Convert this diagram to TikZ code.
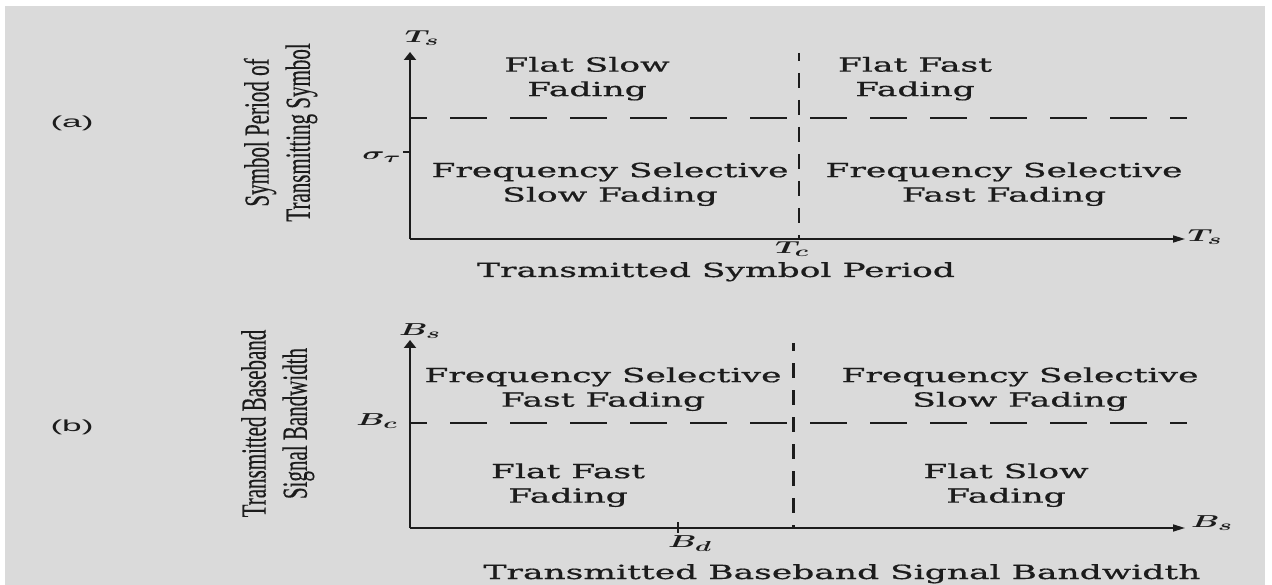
\documentclass[tikz,border=0pt]{standalone}
\usepackage{bm}
\usepackage{fontspec}
\setmainfont[FakeBold=0.6]{DejaVu Serif}
\newfontfamily\sidefont[FakeBold=0.4]{Liberation Serif}
\newfontfamily\tagfont{Liberation Sans}
\usepackage{graphicx}
\usetikzlibrary{arrows.meta}
\definecolor{paper}{HTML}{DADADA}
\definecolor{ink}{HTML}{1C1C1C}
\newlength\natw
% width factors: "Frequency Selective" spans 357 units, "(a)" spans 45
\AtBeginDocument{%
  \settowidth{\natw}{\fontsize{19.5}{24.5}\selectfont Frequency Selective}%
  \pgfmathsetmacro{\wfac}{357/\the\natw}%
  \global\let\wfac\wfac
  \settowidth{\natw}{\tagfont\fontsize{16}{18}\selectfont (a)}%
  \pgfmathsetmacro{\tfac}{43/\the\natw}%
  \global\let\tfac\tfac}
% horizontally widened text, as used throughout the chart
\newcommand{\widetxt}[1]{\scalebox{\wfac}[1]{#1}}
\newcommand{\widemath}[1]{\scalebox{1.8}[1]{#1}}
\newcommand{\twoline}[2]{\widetxt{\begin{tabular}{@{}c@{}}#1\\#2\end{tabular}}}
\newcommand{\sidelabel}[2]{\scalebox{1.68}[1]{\rotatebox{90}{\begin{tabular}{@{}c@{}}#1\\#2\end{tabular}}}}
\newcommand{\sym}[2]{\widemath{$\bm{#1}_{\bm{#2}}$}}

\begin{document}
\begin{tikzpicture}[x=1pt,y=-1pt,
  region/.style={inner sep=0pt, text=ink, font=\fontsize{19.5}{24.5}\selectfont},
  axislbl/.style={inner sep=0pt, text=ink, font=\fontsize{19}{21}\selectfont},
  side/.style={inner sep=0pt, text=ink, font=\sidefont\fontsize{21}{24.5}\selectfont},
  tag/.style={inner sep=0pt, text=ink, font=\tagfont\fontsize{16}{18}\selectfont},
  yaxis/.style={line width=2.8pt, draw=ink, -{Triangle[length=8pt,width=12pt]}},
  xaxis/.style={line width=1.6pt, draw=ink, -{Triangle[length=12pt,width=7pt]}},
  hsplit/.style={line width=1.3pt, draw=ink, dash pattern=on 37pt off 23pt, dash phase=20pt},
  vsplit/.style={line width=2.6pt, draw=ink, dash pattern=on 15pt off 12pt, dash phase=7pt},
  tick/.style={line width=1.3pt, draw=ink},
  vtick/.style={line width=2.4pt, draw=ink}]

% page and grey panel
\fill[white] (0,0) rectangle (1272,585);
\fill[paper] (5,6) rectangle (1265,585);
\useasboundingbox (0,0) rectangle (1272,585);

% ---------- (a) symbol period ----------
\coordinate (Oa) at (410,239);
\coordinate (Ya) at (410,52);
\coordinate (Xa) at (1185,239);
\coordinate (sigL) at (403,152);
\coordinate (sigR) at (410,152);
\coordinate (ha1) at (410,118);
\coordinate (ha2) at (1187,118);
\coordinate (va1) at (799,53);
\coordinate (va2) at (799,239);

\draw[hsplit] (ha1) -- (ha2);
\draw[vsplit] (va1) -- (va2);
\draw[xaxis] (Oa) -- (Xa);
\draw[yaxis] (Oa) -- (Ya);
\draw[tick] (sigL) -- (sigR);

\node[tag] (tagA) at (72,123) {\scalebox{\tfac}[1]{(a)}};
\node[side] (sideA) at (281,132.5) {\sidelabel{Symbol Period of}{Transmitting Symbol}};
\node[axislbl] (tsTop) at (422,38) {\sym{T}{s}};
\node[axislbl] (sigma) at (382,157) {\sym{\sigma}{\tau}};
\node[axislbl] (tsRight) at (1205,237) {\sym{T}{s}};
\node[axislbl] (tc) at (792,249) {\sym{T}{c}};

\node[region] (fsfA) at (587,79) {\twoline{Flat Slow}{Fading}};
\node[region] (fffA) at (915,79) {\twoline{Flat Fast}{Fading}};
\node[region] (fssA) at (610,184.5) {\twoline{Frequency Selective}{Slow Fading}};
\node[region] (fsffA) at (1004,184.5) {\twoline{Frequency Selective}{Fast Fading}};
\node[region, anchor=base] (titleA) at (716,277) {\widetxt{Transmitted Symbol Period}};

% ---------- (b) baseband bandwidth ----------
\coordinate (Ob) at (410,528);
\coordinate (Yb) at (410,340);
\coordinate (Xb) at (1185,528);
\coordinate (bdT) at (678,522);
\coordinate (bdB) at (678,533);
\coordinate (hb1) at (410,423);
\coordinate (hb2) at (1187,423);
\coordinate (vb1) at (793.6,343);
\coordinate (vb2) at (793.6,528);

\draw[hsplit] (hb1) -- (hb2);
\draw[vsplit] (vb1) -- (vb2);
\draw[xaxis] (Ob) -- (Xb);
\draw[yaxis] (Ob) -- (Yb);
\draw[vtick] (bdT) -- (bdB);

\node[tag] (tagB) at (72,427) {\scalebox{\tfac}[1]{(b)}};
\node[side] (sideB) at (278,423.5) {\sidelabel{Transmitted Baseband}{Signal Bandwidth}};
\node[axislbl] (bsTop) at (420,331) {\sym{B}{s}};
\node[axislbl] (bc) at (377,421) {\sym{B}{c}};
\node[axislbl] (bsRight) at (1212,523) {\sym{B}{s}};
\node[axislbl] (bd) at (690,544) {\sym{B}{d}};

\node[region] (fsffB) at (603,389.5) {\twoline{Frequency Selective}{Fast Fading}};
\node[region] (fssB) at (1020,389.5) {\twoline{Frequency Selective}{Slow Fading}};
\node[region] (fffB) at (568,485.5) {\twoline{Flat Fast}{Fading}};
\node[region] (fsfB) at (1006,485.5) {\twoline{Flat Slow}{Fading}};
\node[region, anchor=base] (titleB) at (842,579) {\widetxt{Transmitted Baseband Signal Bandwidth}};
\end{tikzpicture}
\end{document}
